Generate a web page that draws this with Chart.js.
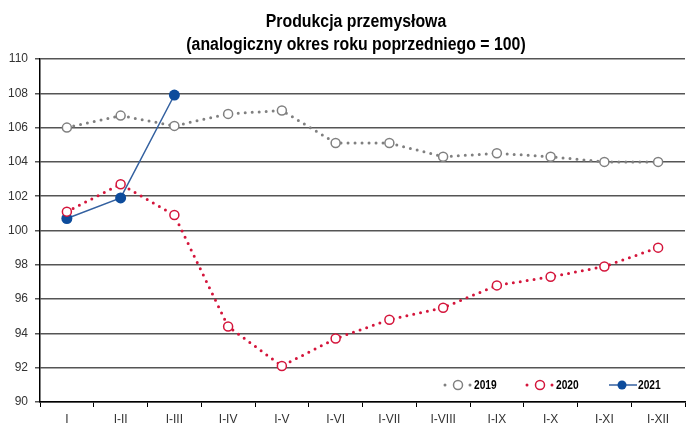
<!DOCTYPE html>
<html>
<head>
<meta charset="utf-8">
<script src="https://cdn.jsdelivr.net/npm/chart.js@4/dist/chart.umd.min.js"></script>
<style>
  html, body { margin: 0; padding: 0; background: #fff; }
  #wrap { width: 691px; height: 425px; }
</style>
</head>
<body>
<div id="wrap"><canvas id="chart"></canvas></div>
<script>
// months (cumulative periods)
const categories = ["I", "I-II", "I-III", "I-IV", "I-V", "I-VI", "I-VII", "I-VIII", "I-IX", "I-X", "I-XI", "I-XII"];
const values2019 = [106.0, 106.7, 106.1, 106.8, 107.0, 105.1, 105.1, 104.3, 104.5, 104.3, 104.0, 104.0];
const values2020 = [101.1, 102.7, 100.9, 94.4, 92.1, 93.7, 94.8, 95.5, 96.8, 97.3, 97.9, 99.0];
const values2021 = [100.7, 101.9, 107.9];
const seriesNames = ["2019", "2020", "2021"];
const yTicks = [90, 92, 94, 96, 98, 100, 102, 104, 106, 108, 110];
const titleLines = ["Produkcja przemysłowa", "(analogiczny okres roku poprzedniego = 100)"];

const FONT = "'Liberation Sans', Arial, sans-serif";
const GRAY = "#808080";
const RED = "#d4153b";
const BLUE = "#0d4c9c";
const BLUE_LINE = "#3461a0";

// draws text squeezed horizontally (narrow look)
function narrowText(ctx, text, x, y, sx) {
  ctx.save();
  ctx.translate(x, y);
  ctx.scale(sx, 1);
  ctx.fillText(text, 0, 0);
  ctx.restore();
}

// title + legend drawn by hand
const decorPlugin = {
  id: "decor",
  afterDraw(chart) {
    const ctx = chart.ctx;
    ctx.save();
    ctx.fillStyle = "#000";
    ctx.textAlign = "center";
    ctx.textBaseline = "middle";
    ctx.font = "bold 18px " + FONT;
    narrowText(ctx, titleLines[0], 356, 22, 0.88);
    narrowText(ctx, titleLines[1], 356, 45, 0.88);

    // legend inside chart area
    const items = [
      { x: 445, color: GRAY, dotted: true, filled: false },
      { x: 527, color: RED, dotted: true, filled: false },
      { x: 609, color: BLUE_LINE, dotted: false, filled: true, pcolor: BLUE }
    ];
    const ly = 385;
    items.forEach((it, i) => {
      const cx = it.x + 13;
      if (it.dotted) {
        ctx.fillStyle = it.color;
        [it.x, it.x + 25].forEach(dx => {
          ctx.beginPath();
          ctx.arc(dx, ly, 1.5, 0, Math.PI * 2);
          ctx.fill();
        });
      } else {
        ctx.strokeStyle = it.color;
        ctx.lineWidth = 1.5;
        ctx.beginPath();
        ctx.moveTo(it.x, ly);
        ctx.lineTo(it.x + 28, ly);
        ctx.stroke();
      }
      ctx.beginPath();
      ctx.arc(cx, ly, 4.5, 0, Math.PI * 2);
      if (it.filled) {
        ctx.fillStyle = it.pcolor;
        ctx.fill();
      } else {
        ctx.fillStyle = "#fff";
        ctx.fill();
        ctx.strokeStyle = it.color;
        ctx.lineWidth = 1.5;
        ctx.stroke();
      }
      ctx.fillStyle = "#000";
      ctx.textAlign = "left";
      ctx.font = "bold 12px " + FONT;
      narrowText(ctx, seriesNames[i], it.x + 29, ly + 1, 0.85);
    });
    ctx.restore();
  }
};

const ctx = document.getElementById("chart").getContext("2d");
new Chart(ctx, {
  type: "line",
  data: {
    labels: categories,
    datasets: [
      {
        label: seriesNames[0],
        data: values2019,
        borderColor: GRAY,
        borderWidth: 3,
        borderDash: [0, 7],
        borderCapStyle: "round",
        pointRadius: 4.5,
        pointBorderWidth: 1.5,
        pointBackgroundColor: "#fff",
        pointBorderColor: GRAY
      },
      {
        label: seriesNames[1],
        data: values2020,
        borderColor: RED,
        borderWidth: 3,
        borderDash: [0, 7],
        borderCapStyle: "round",
        pointRadius: 4.5,
        pointBorderWidth: 1.5,
        pointBackgroundColor: "#fff",
        pointBorderColor: RED
      },
      {
        label: seriesNames[2],
        data: values2021,
        borderColor: BLUE_LINE,
        borderWidth: 1.5,
        pointRadius: 5.5,
        pointBorderWidth: 0,
        pointBackgroundColor: BLUE,
        pointBorderColor: BLUE
      }
    ]
  },
  options: {
    responsive: true,
    maintainAspectRatio: false,
    animation: false,
    layout: { padding: { top: 59, right: 0, left: 0, bottom: 0 } },
    plugins: {
      legend: { display: false },
      tooltip: { enabled: false }
    },
    scales: {
      x: {
        offset: true,
        grid: {
          offset: true,
          drawOnChartArea: false,
          drawTicks: true,
          tickLength: 5,
          color: "#000"
        },
        border: { color: "#000", width: 1.5 },
        ticks: {
          color: "#333",
          font: { family: FONT, size: 12 },
          padding: 5,
          maxRotation: 0,
          autoSkip: false
        },
        afterFit(scale) { scale.height = 23; }
      },
      y: {
        min: 90,
        max: 110,
        afterBuildTicks(scale) { scale.ticks = yTicks.map(v => ({ value: v })); },
        grid: {
          color: "#555",
          lineWidth: 1.5,
          drawTicks: true,
          tickLength: 5
        },
        border: { color: "#000", width: 1.5 },
        ticks: {
          color: "#333",
          font: { family: FONT, size: 12 },
          padding: 7
        },
        afterFit(scale) { scale.width = 40; }
      }
    }
  },
  plugins: [decorPlugin]
});
</script>
</body>
</html>
